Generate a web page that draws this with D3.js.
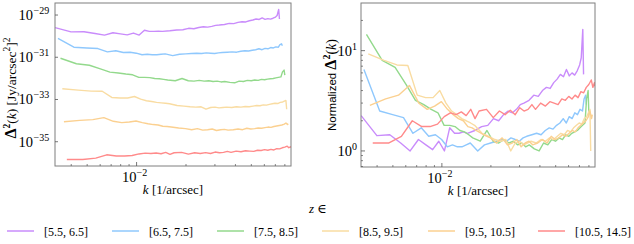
<html>
<head>
<script src="https://cdnjs.cloudflare.com/ajax/libs/d3/7.8.5/d3.min.js"></script>
<style>
  body { margin: 0; background: #fff; }
  text { font-family: "Liberation Serif", "DejaVu Serif", serif; fill: #000; }
</style>
</head>
<body>
<script>
// redshift bins and colours
var zBins = ["[5.5, 6.5]", "[6.5, 7.5]", "[7.5, 8.5]", "[8.5, 9.5]", "[9.5, 10.5]", "[10.5, 14.5]"];
var colors = ["#c98cfb", "#8fc8fd", "#93d98c", "#f9dca2", "#fbd090", "#ff8a8a"];

// k bin index (k = n * kFund) and fundamental k for each bin [1/arcsec]
var binN = [4, 5, 6, 7, 8, 9, 10, 11, 12, 13, 14, 15, 16, 17, 18, 20, 22, 24, 26, 28, 30, 32, 34, 36, 38, 40,
            43, 46, 49, 52, 55, 58, 61, 64, 67, 70, 73, 76, 79, 82, 85, 88, 90, 92, 93];
var kFund = [0.7975e-3, 0.830e-3, 0.860e-3, 0.8825e-3, 0.9025e-3, 0.940e-3];

// minimum of each power spectrum [Jy/arcsec^2]^2 (used for normalisation)
var minPower = [1.12e-30, 1.20e-31, 6.17e-33, 3.47e-34, 3.09e-35, 1.20e-36];

// normalized Delta^2(k)
var norm55 = [2.25, 1.42, 1.45, 1.2, 1.0, 1.3, 1.15, 1.03, 1.25, 1.0, 1.7, 1.5, 1.5, 1.55, 1.5, 1.6, 1.75, 1.8, 2.1, 2.0, 2.3, 2.5, 2.4, 2.6, 2.9, 3.0,
              3.2, 3.6, 3.5, 4.0, 4.3, 4.2, 4.8, 5.2, 5.8, 5.5, 6.5, 5.6, 6.0, 5.7, 6.3, 7.2, 8.5, 16.3, 5.8];
var norm65 = [6.5, 2.5, 2.3, 2.15, 1.5, 1.7, 1.4, 1.45, 1.3, 1.1, 1.15, 1.1, 1.1, 1.15, 1.2, 1.0, 1.15, 1.2, 1.25, 1.3, 1.25, 1.35, 1.3, 1.25, 1.35, 1.4,
              1.45, 1.5, 1.45, 1.6, 1.7, 1.65, 1.8, 1.9, 2.1, 1.9, 2.2, 2.1, 2.4, 2.3, 2.6, 2.5, 3.3, 3.6, 2.9];
var norm75 = [14.5, 8.0, 6.8, 4.6, 3.2, 2.9, 2.6, 2.4, 1.8, 1.8, 1.75, 1.6, 1.55, 1.45, 1.35, 1.25, 1.6, 1.25, 1.2, 1.3, 1.2, 1.25, 1.15, 1.2, 1.1, 1.15,
              1.05, 1.0, 1.2, 1.15, 1.3, 1.25, 1.35, 1.3, 1.45, 1.4, 1.5, 1.55, 1.6, 1.7, 1.8, 1.9, 3.3, 4.0, 2.3];
var norm85 = [9.3, 8.0, 7.2, 7.1, 3.6, 3.4, 3.4, 4.0, 3.0, 2.5, 2.3, 2.1, 2.0, 1.9, 1.8, 1.5, 1.4, 1.3, 1.25, 1.3, 1.0, 1.2, 1.25, 1.15, 1.2, 1.25,
              1.2, 1.3, 1.25, 1.35, 1.3, 1.4, 1.5, 1.45, 1.6, 1.55, 1.7, 1.8, 1.9, 1.85, 2.1, 2.2, 2.4, 2.6, 1.0];
var norm95 = [2.85, 3.3, 3.6, 4.5, 3.0, 2.6, 2.8, 3.1, 2.6, 2.3, 2.1, 2.0, 1.75, 1.7, 1.6, 1.45, 1.35, 1.2, 1.35, 1.15, 1.2, 1.3, 1.1, 1.2, 1.25, 1.15,
              1.2, 1.3, 1.2, 1.4, 1.3, 1.35, 1.45, 1.4, 1.5, 1.6, 1.55, 1.7, 1.8, 1.9, 2.0, 2.2, 2.5, 2.1, 2.3];
var norm105 = [1.2, 1.2, 1.4, 2.0, 1.75, 1.75, 1.85, 2.2, 2.4, 2.3, 2.45, 2.25, 2.6, 2.1, 2.5, 2.6, 2.15, 2.5, 2.3, 2.55, 2.3, 2.7, 2.5, 2.6, 2.9, 2.6,
               3.0, 2.8, 3.1, 3.0, 2.9, 3.3, 3.2, 3.5, 3.3, 3.6, 3.4, 3.9, 3.8, 4.3, 4.6, 5.1, 4.3, 4.8, 4.4];
var normSeries = [norm55, norm65, norm75, norm85, norm95, norm105];

// axis ticks
var xMajor = [1e-2];
var xMinor = [4e-3, 5e-3, 6e-3, 7e-3, 8e-3, 9e-3, 2e-2, 3e-2, 4e-2, 5e-2, 6e-2, 7e-2, 8e-2];
var leftYTicks = [1e-29, 1e-31, 1e-33, 1e-35];
var leftYExp = ["\u221229", "\u221231", "\u221233", "\u221235"];
var rightYMajor = [1, 10];
var rightYExp = ["0", "1"];
var rightYMinor = [0.7, 0.8, 0.9, 2, 3, 4, 5, 6, 7, 8, 9, 20];

var W = 634, H = 244;
var svg = d3.select("body").append("svg").attr("width", W).attr("height", H);

var xDomain = [3.185e-3, 8.72e-2];
var panels = [
  { x0: 55, x1: 291, y0: 3, y1: 166, yDomain: [Math.pow(10, -36.15), Math.pow(10, -28.43)], left: true },
  { x0: 361, x1: 595, y0: 3, y1: 167, yDomain: [Math.pow(10, -0.16), Math.pow(10, 1.475)], left: false }
];

panels.forEach(function (p) {
  var x = d3.scaleLog().domain(xDomain).range([p.x0, p.x1]);
  var y = d3.scaleLog().domain(p.yDomain).range([p.y1, p.y0]);

  var g = svg.append("g");
  var clipId = "clip" + (p.left ? "L" : "R");
  svg.append("clipPath").attr("id", clipId).append("rect")
    .attr("x", p.x0).attr("y", p.y0).attr("width", p.x1 - p.x0).attr("height", p.y1 - p.y0);

  var line = d3.line()
    .x(function (d) { return x(d[0]); })
    .y(function (d) { return y(d[1]); });

  normSeries.forEach(function (vals, i) {
    var pts = binN.map(function (n, j) {
      var v = p.left ? vals[j] * minPower[i] : vals[j];
      return [n * kFund[i], v];
    });
    g.append("path")
      .attr("clip-path", "url(#" + clipId + ")")
      .attr("d", line(pts))
      .attr("fill", "none")
      .attr("stroke", colors[i])
      .attr("stroke-width", 1.4)
      .attr("stroke-linejoin", "round");
  });

  // frame
  g.append("rect")
    .attr("x", p.x0).attr("y", p.y0)
    .attr("width", p.x1 - p.x0).attr("height", p.y1 - p.y0)
    .attr("fill", "none").attr("stroke", "#7f7f7f").attr("stroke-width", 1);

  // x ticks (inward)
  xMajor.forEach(function (t) {
    g.append("line").attr("x1", x(t)).attr("x2", x(t)).attr("y1", p.y1).attr("y2", p.y1 - 4)
      .attr("stroke", "#555").attr("stroke-width", 0.8);
    var tx = g.append("text").attr("x", x(t) - 2).attr("y", p.y1 + 16)
      .attr("text-anchor", "middle").style("font-size", "14.5px");
    tx.append("tspan").text("10");
    tx.append("tspan").attr("dy", -6).style("font-size", "10px").text("\u22122");
  });
  xMinor.forEach(function (t) {
    g.append("line").attr("x1", x(t)).attr("x2", x(t)).attr("y1", p.y1).attr("y2", p.y1 - 2)
      .attr("stroke", "#555").attr("stroke-width", 0.7);
  });

  // x label
  var xl = g.append("text").attr("x", (p.x0 + p.x1) / 2).attr("y", p.y1 + 28)
    .attr("text-anchor", "middle").style("font-size", "13px");
  xl.append("tspan").style("font-style", "italic").text("k");
  xl.append("tspan").text(" [1/arcsec]");

  if (p.left) {
    leftYTicks.forEach(function (t, i) {
      g.append("line").attr("x1", p.x0).attr("x2", p.x0 + 3).attr("y1", y(t)).attr("y2", y(t))
        .attr("stroke", "#555").attr("stroke-width", 0.8);
      var ty = g.append("text").attr("x", p.x0 - 22).attr("y", y(t) + 5)
        .attr("text-anchor", "end").style("font-size", "14.5px");
      ty.append("tspan").text("10");
      g.append("text").attr("x", p.x0 - 21.5).attr("y", y(t) - 1)
        .attr("text-anchor", "start").style("font-size", "10px").text(leftYExp[i]);
    });
    var yl = g.append("text").attr("transform", "translate(16,88) rotate(-90)")
      .attr("text-anchor", "middle").style("font-size", "13.5px");
    yl.append("tspan").style("font-weight", "bold").style("font-size", "16px").text("\u0394");
    yl.append("tspan").attr("dy", -6).style("font-weight", "bold").style("font-size", "9.5px").text("2");
    yl.append("tspan").attr("dy", 6).text("(");
    yl.append("tspan").style("font-style", "italic").text("k");
    yl.append("tspan").text(") [Jy/arcsec");
    yl.append("tspan").attr("dy", -6).style("font-size", "9.5px").text("2");
    yl.append("tspan").attr("dy", 6).text("]");
    yl.append("tspan").attr("dy", -6).style("font-size", "9.5px").text("2");
  } else {
    rightYMajor.forEach(function (t, i) {
      g.append("line").attr("x1", p.x0).attr("x2", p.x0 + 4).attr("y1", y(t)).attr("y2", y(t))
        .attr("stroke", "#555").attr("stroke-width", 0.8);
      g.append("text").attr("x", p.x0 - 9).attr("y", y(t) + 5)
        .attr("text-anchor", "end").style("font-size", "14.5px").text("10");
      g.append("text").attr("x", p.x0 - 9).attr("y", y(t) - 1)
        .attr("text-anchor", "start").style("font-size", "10px").text(rightYExp[i]);
    });
    rightYMinor.forEach(function (t) {
      g.append("line").attr("x1", p.x0).attr("x2", p.x0 + 2).attr("y1", y(t)).attr("y2", y(t))
        .attr("stroke", "#555").attr("stroke-width", 0.7);
    });
    var yr = g.append("text").attr("transform", "translate(336,85) rotate(-90)")
      .attr("text-anchor", "middle").style("font-size", "14px");
    yr.append("tspan").style("font-family", "'Liberation Sans', Arial, sans-serif").style("font-size", "11.5px").text("Normalized  ");
    yr.append("tspan").style("font-weight", "bold").style("font-size", "16px").text("\u0394");
    yr.append("tspan").attr("dy", -6).style("font-weight", "bold").style("font-size", "10px").text("2");
    yr.append("tspan").attr("dy", 6).text("(");
    yr.append("tspan").style("font-style", "italic").text("k");
    yr.append("tspan").text(")");
  }
});

// legend
var zt = svg.append("text").attr("x", 318).attr("y", 213).attr("text-anchor", "middle").style("font-size", "13px");
zt.append("tspan").style("font-style", "italic").text("z");
zt.append("tspan").text(" \u2208");

var legX = [7, 112, 217, 322, 428, 538];
zBins.forEach(function (lab, i) {
  svg.append("line").attr("x1", legX[i]).attr("x2", legX[i] + 27).attr("y1", 231).attr("y2", 231)
    .attr("stroke", colors[i]).attr("stroke-width", 1.5);
  svg.append("text").attr("x", legX[i] + 37).attr("y", 235.5).style("font-size", "12px").text(lab);
});
</script>
</body>
</html>
